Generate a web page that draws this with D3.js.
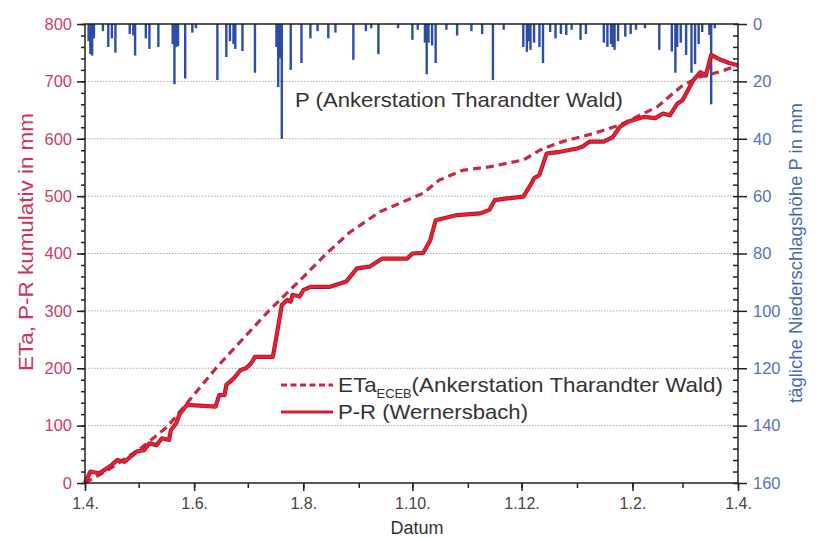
<!DOCTYPE html>
<html><head><meta charset="utf-8">
<script src="https://cdn.jsdelivr.net/npm/d3@7"></script>
<style>body{margin:0;background:#fff} svg{display:block;font-family:"Liberation Sans",Arial,sans-serif}</style>
</head><body><svg id="c" width="822" height="538"></svg>
<script>
// ---- data ----
const startDate = "2008-04-01", endDate = "2009-04-01";
const xTickDates = ["2008-04-01","2008-06-01","2008-08-01","2008-10-01","2008-12-01","2009-02-01","2009-04-01"];
const leftTicks = [0,100,200,300,400,500,600,700,800];
const rightTicks = [0,20,40,60,80,100,120,140,160];
// daily precipitation (days since 1.4.) in mm
const precipDay = [2,3,4,5,10,13,15,17,25,27,28,34,36,41,49,50,51,52,56,60,62,74,79,81,83,84,88,95,107,108,109,110,115,121,126,130,136,140,150,157,160,164,175,183,186,190,191,192,194,196,202,208,216,222,228,234,245,247,248,249,251,254,256,260,263,266,269,272,277,280,290,292,294,295,296,298,302,305,308,313,321,328,330,331,333,336,339,341,343,345,349,350,352];
const precipMm  = [6,10.5,11,5,2.5,8,5,10,3.5,4,11,5,8.7,8,7,21,8,7.7,19,3,1.5,19.5,11.5,6,7,8.7,9.4,17,8,22,12,40,16,13.6,5,2.5,5,3,12.5,2.5,1.5,10.5,1.5,5.5,2,6.5,17.5,6.5,7.5,13.6,2,4,2.5,3.5,19.5,2,8,9.7,6,9,6.5,8,13.6,2.8,5,3.5,3.8,2,5.5,3.5,6.5,8,7,8,9,6,4.4,3.5,2,1.5,9,9.6,17,8,6.5,10.8,17,14,7,2.8,3.8,28,1.5];
// cumulative ETa (ECEB)
const etaDay = [0,14,31,46,74,103,123,135,148,165,189,198,211,226,245,256,267,284,299,320,334,344,355,365];
const etaVal = [0,25,60,98,203,301,362,400,437,473,505,528,545,551,563,583,595,609,624,656,693,708,717,728];
// cumulative P-R (Wernersbach)
const prDay = [0,3,8,14,18,22,29,33,36,40,43,47,48,51,53,57,73,75,78,79,83,87,90,93,95,105,107,110,113,115,116,120,122,126,137,146,152,159,166,180,183,189,193,196,208,221,226,229,236,245,249,251,254,258,265,275,278,282,290,295,299,304,312,319,323,327,331,334,340,344,347,350,355,360,365];
const prVal = [0,20,17,29,40,37,55,57,69,66,78,75,92,104,121,136,133,153,153,171,182,197,200,209,220,220,255,310,319,316,328,325,336,342,342,351,374,377,391,391,400,401,423,458,467,470,476,493,496,499,519,531,537,574,577,583,586,595,595,603,621,630,638,636,644,641,661,667,702,716,710,746,738,732,728];

// ---- layout ----
const W = 822, H = 538;
const m = {l:85, r:84, t:24, b:55};
const svg = d3.select("#c");
const t0 = new Date(startDate + "T00:00:00Z"), t1 = new Date(endDate + "T00:00:00Z");
const dayDate = d => d3.utcDay.offset(t0, d);
const x = d3.scaleUtc().domain([t0, t1]).range([m.l, W - m.r]);
const yL = d3.scaleLinear().domain([0, 800]).range([H - m.b, m.t]);
const yR = d3.scaleLinear().domain([0, 160]).range([m.t, H - m.b]);

const redLbl = "#c8406a", blueLbl = "#5672b4";

// grid
svg.append("g").selectAll("line").data(leftTicks.filter(v => v > 0 && v < 800)).join("line")
  .attr("x1", m.l).attr("x2", W - m.r).attr("y1", d => yL(d)).attr("y2", d => yL(d))
  .attr("stroke", "#aaa").attr("stroke-width", 1).attr("stroke-dasharray", "1.5,1.5");

// precipitation bars
const P = precipDay.map((d, i) => ({date: dayDate(d), v: precipMm[i]}));
svg.append("g").selectAll("rect").data(P).join("rect")
  .attr("x", d => x(d.date) - 1.2).attr("width", 2.4)
  .attr("y", yR(0)).attr("height", d => yR(d.v) - yR(0))
  .attr("fill", "#2d4ca6");

// lines
const eta = etaDay.map((d, i) => ({date: dayDate(d), v: etaVal[i]}));
const pr = prDay.map((d, i) => ({date: dayDate(d), v: prVal[i]}));
const line = d3.line().x(d => x(d.date)).y(d => yL(d.v));
svg.append("path").datum(eta).attr("d", line).attr("fill", "none")
  .attr("stroke", "#c42a45").attr("stroke-width", 3.2).attr("stroke-dasharray", "8,5");
svg.append("path").datum(pr).attr("d", line).attr("fill", "none")
  .attr("stroke", "#a8182c").attr("stroke-width", 4.2).attr("stroke-linejoin", "round");
svg.append("path").datum(pr).attr("d", line).attr("fill", "none")
  .attr("stroke", "#ec2030").attr("stroke-width", 2.4).attr("stroke-linejoin", "round");

// frame
svg.append("rect").attr("x", m.l).attr("y", m.t).attr("width", W - m.l - m.r).attr("height", H - m.t - m.b)
  .attr("fill", "none").attr("stroke", "#222").attr("stroke-width", 1.5);

function styleAxis(g, col, size) {
  g.select(".domain").remove();
  g.selectAll("line").attr("stroke", "#222").attr("stroke-width", 1.5);
  g.selectAll("text").attr("fill", col).attr("font-size", size).attr("font-family", "Liberation Sans, Arial, sans-serif");
}
// left axis
const gL = svg.append("g").attr("transform", `translate(${m.l},0)`)
  .call(d3.axisLeft(yL).tickValues(leftTicks).tickSize(8).tickPadding(5).tickFormat(d3.format("d")));
styleAxis(gL, redLbl, 16.5);
const gLm = svg.append("g").attr("transform", `translate(${m.l},0)`)
  .call(d3.axisLeft(yL).tickValues(d3.range(0, 801, 20)).tickSize(4).tickFormat(""));
styleAxis(gLm, redLbl, 16);
// right axis
const gR = svg.append("g").attr("transform", `translate(${W - m.r},0)`)
  .call(d3.axisRight(yR).tickValues(rightTicks).tickSize(9).tickPadding(6).tickFormat(d3.format("d")));
styleAxis(gR, blueLbl, 16.5);
const gRm = svg.append("g").attr("transform", `translate(${W - m.r},0)`)
  .call(d3.axisLeft(yR).tickValues(d3.range(0, 161, 4)).tickSize(5).tickFormat(""));
styleAxis(gRm, blueLbl, 16);
// x axis
const xMaj = xTickDates.map(s => new Date(s + "T00:00:00Z"));
const gX = svg.append("g").attr("transform", `translate(0,${H - m.b})`)
  .call(d3.axisBottom(x).tickValues(xMaj).tickSize(8).tickPadding(7).tickFormat(d3.utcFormat("%-d.%-m.")));
styleAxis(gX, "#444", 16);
const gXm = svg.append("g").attr("transform", `translate(0,${H - m.b})`)
  .call(d3.axisBottom(x).tickValues(d3.utcMonth.range(t0, d3.utcDay.offset(t1, 1))).tickSize(5).tickFormat(""));
styleAxis(gXm, "#444", 16);

// axis titles
svg.append("text").attr("x", 417).attr("y", 534).attr("text-anchor", "middle")
  .attr("font-size", 18).attr("fill", "#333").text("Datum");
svg.append("text").attr("transform", `translate(33,242) rotate(-90)`).attr("text-anchor", "middle")
  .attr("font-size", 20).attr("fill", "#d0305e")
  .attr("textLength", 258).attr("lengthAdjust", "spacingAndGlyphs").text("ETa, P-R  kumulativ in mm");
svg.append("text").attr("transform", `translate(802,253) rotate(-90)`).attr("text-anchor", "middle")
  .attr("font-size", 18.5).attr("fill", "#4a68b0").text("tägliche Niederschlagshöhe P in mm");

// annotation
svg.append("text").attr("x", 295).attr("y", 107).attr("font-size", 21).attr("fill", "#333")
  .attr("textLength", 328).attr("lengthAdjust", "spacingAndGlyphs")
  .text("P (Ankerstation Tharandter Wald)");

// legend
const lg = svg.append("g");
lg.append("line").attr("x1", 281).attr("x2", 333).attr("y1", 385).attr("y2", 385)
  .attr("stroke", "#c42a45").attr("stroke-width", 3).attr("stroke-dasharray", "6,3.5");
lg.append("line").attr("x1", 281).attr("x2", 333).attr("y1", 412).attr("y2", 412)
  .attr("stroke", "#d81c30").attr("stroke-width", 3);
const t1x = lg.append("text").attr("x", 338).attr("y", 392).attr("font-size", 21).attr("fill", "#333")
  .attr("textLength", 385).attr("lengthAdjust", "spacingAndGlyphs");
t1x.append("tspan").text("ETa");
t1x.append("tspan").attr("font-size", 12).attr("dy", 6).text("ECEB");
t1x.append("tspan").attr("dy", -6).text("(Ankerstation Tharandter Wald)");
lg.append("text").attr("x", 338).attr("y", 419).attr("font-size", 21).attr("fill", "#333")
  .attr("textLength", 190).attr("lengthAdjust", "spacingAndGlyphs").text("P-R (Wernersbach)");
</script></body></html>
